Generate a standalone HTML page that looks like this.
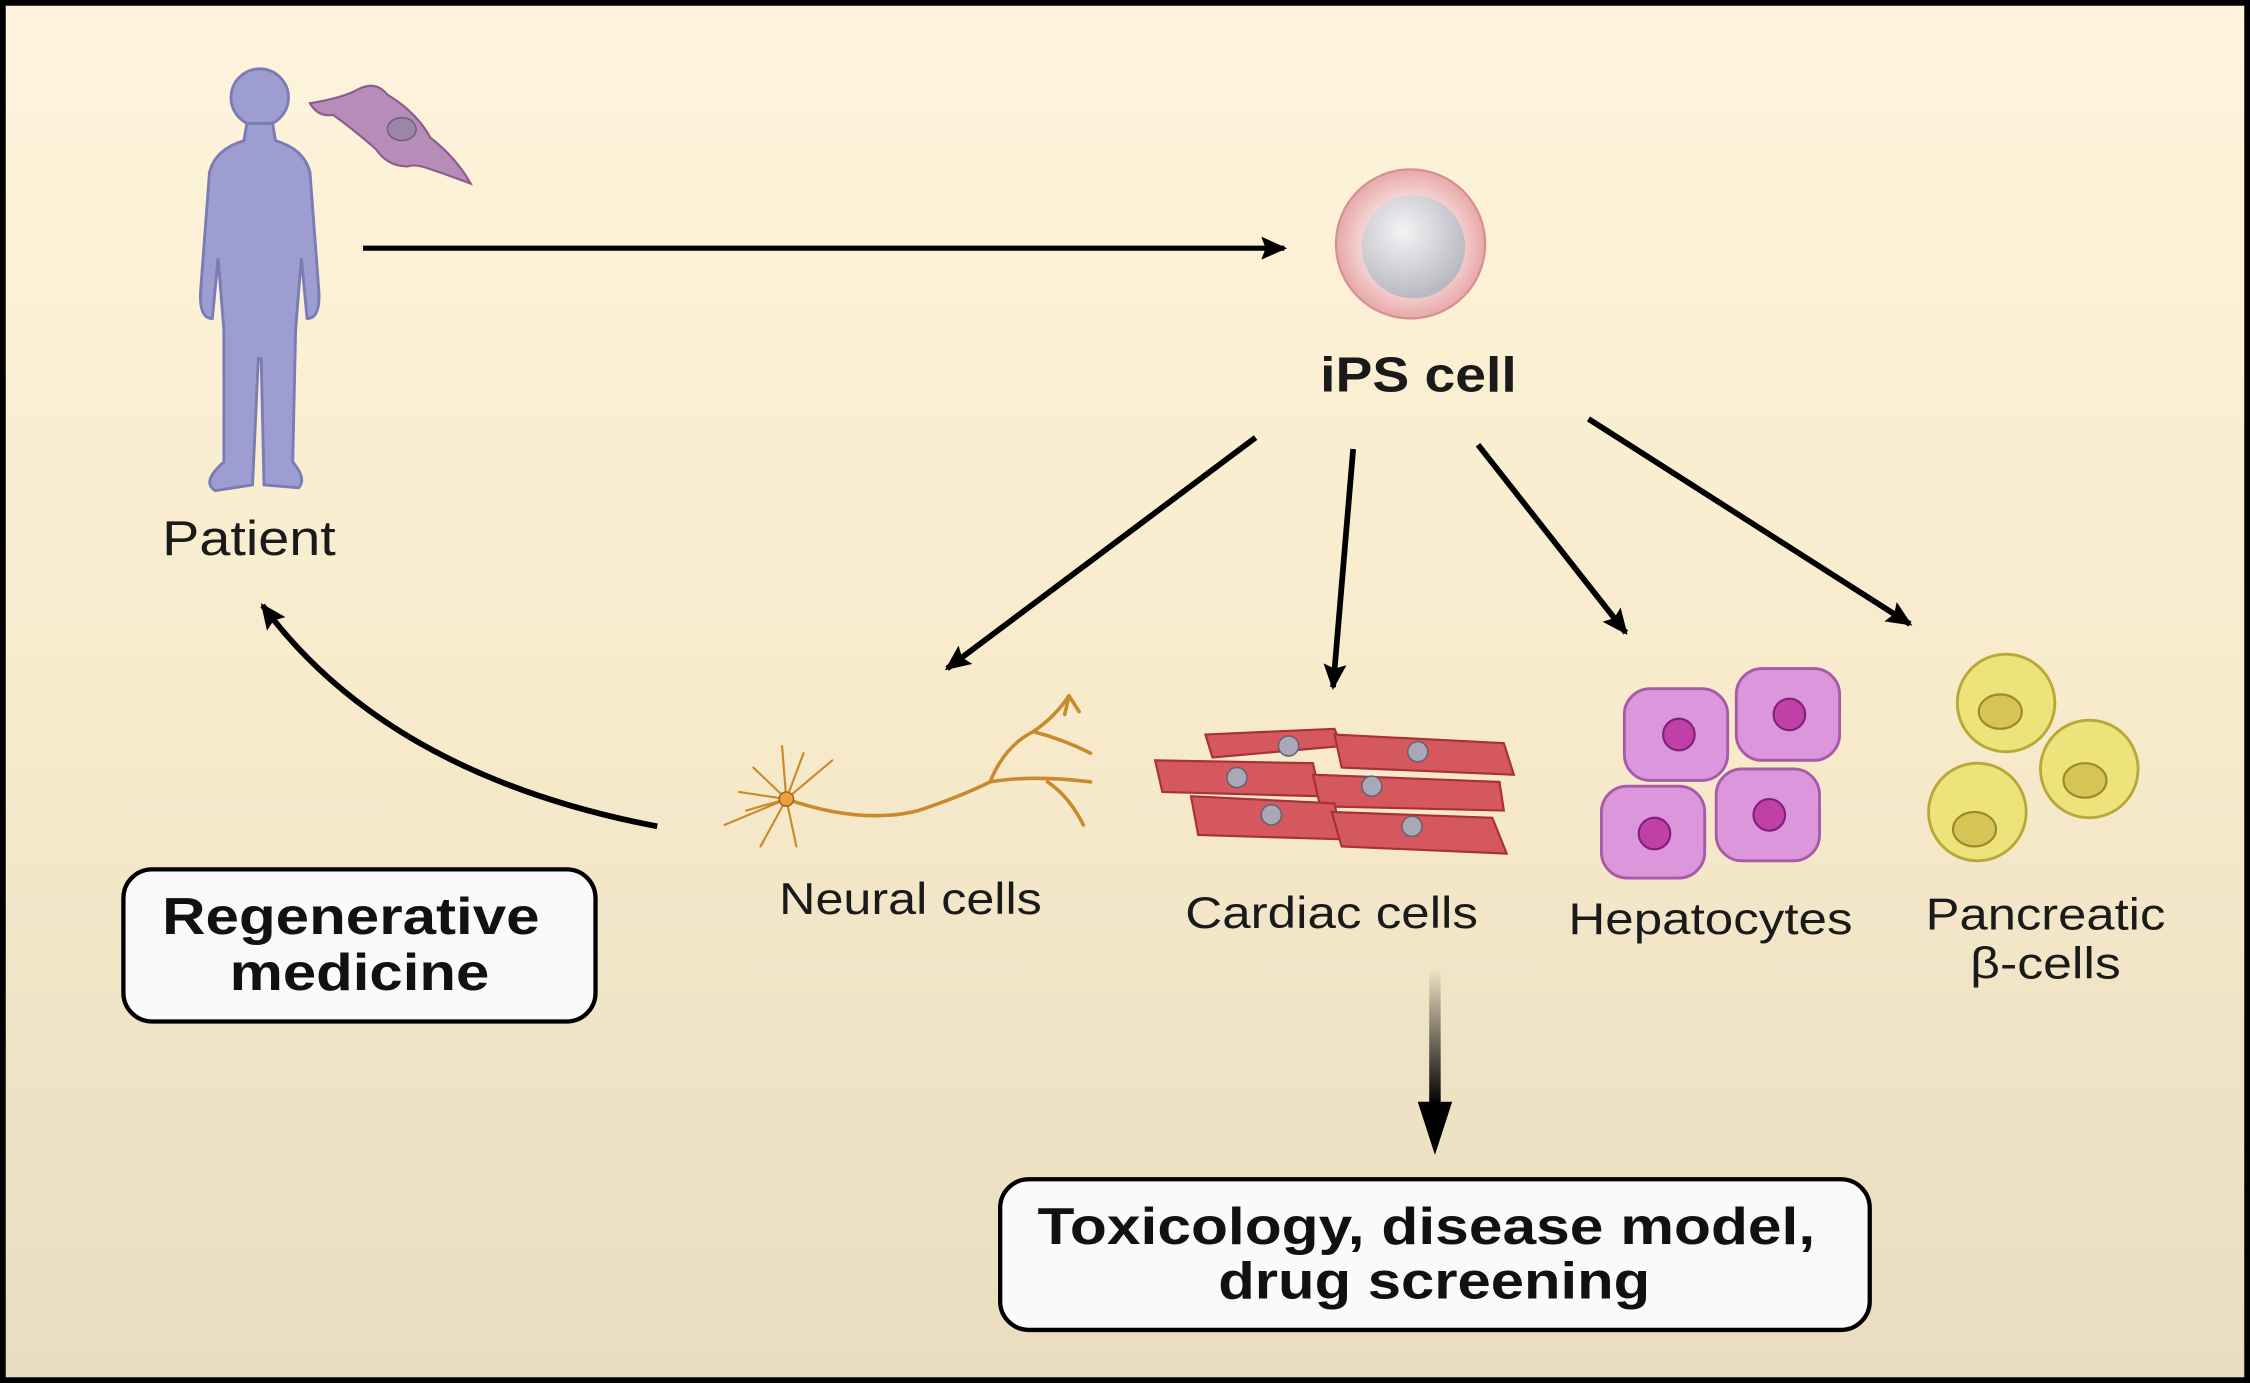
<!DOCTYPE html>
<html><head><meta charset="utf-8"><style>
html,body{margin:0;padding:0;background:#fff}
svg{display:block}
text{font-family:"Liberation Sans",Arial,sans-serif}
</style></head><body>
<svg width="2250" height="1383" viewBox="0 0 1568 964" preserveAspectRatio="none" xmlns="http://www.w3.org/2000/svg">
<defs>
<linearGradient id="bg" x1="0" y1="0" x2="0" y2="1">
<stop offset="0" stop-color="#fef4dc"/><stop offset="0.5" stop-color="#f8ebcc"/><stop offset="1" stop-color="#e9dcbf"/>
</linearGradient>
<radialGradient id="ips" cx="0.5" cy="0.5" r="0.5">
<stop offset="0.6" stop-color="#f6dada"/><stop offset="1" stop-color="#e8a8a8"/>
</radialGradient>
<radialGradient id="nuc" cx="0.4" cy="0.35" r="0.7">
<stop offset="0" stop-color="#f4f4f6"/><stop offset="1" stop-color="#b4b4bc"/>
</radialGradient>
<linearGradient id="garr" x1="0" y1="0" x2="0" y2="1">
<stop offset="0" stop-color="#000" stop-opacity="0"/><stop offset="1" stop-color="#000"/>
</linearGradient>
<marker id="ah2" markerWidth="20" markerHeight="16" refX="16" refY="8" orient="auto" markerUnits="userSpaceOnUse">
<path d="M0,0 L18,8 L0,16 L3,8 Z" fill="#000"/>
</marker>
</defs>
<rect x="2" y="2" width="1564" height="960" fill="url(#bg)" stroke="#000" stroke-width="4"/>

<g fill="#9d9dd2" stroke="#7b7bb5" stroke-width="2">
<circle cx="181" cy="68" r="20"/>
<path d="M172,86 L190,86 L192,98 Q212,104 216,120 L222,200 Q224,222 214,222 L210,180 L206,230 L204,322 Q214,334 208,340 L184,338 L182,250 L180,250 L176,338 L150,342 Q140,336 156,322 L156,230 L152,180 L148,222 Q138,222 140,200 L146,120 Q150,104 170,98 Z"/>
</g>
<path d="M216,72 Q240,68 250,62 Q262,56 270,66 Q290,78 300,96 Q318,110 328,128 Q312,122 300,118 Q290,114 284,116 Q270,116 262,104 Q246,90 232,80 Q222,82 216,72 Z" fill="#b88cb8" stroke="#8c5c8c" stroke-width="1.5"/>
<ellipse cx="280" cy="90" rx="10" ry="8" fill="#9a86a8" stroke="#6c5c7c"/>

<text x="113" y="387" font-size="34" textLength="121" lengthAdjust="spacingAndGlyphs" fill="#1a1a1a">Patient</text>

<line x1="253" y1="173" x2="895" y2="173" stroke="#000" stroke-width="3.5" marker-end="url(#ah2)"/>

<circle cx="983" cy="170" r="52" fill="url(#ips)" stroke="#d49090" stroke-width="1.5"/>
<circle cx="985" cy="172" r="36" fill="url(#nuc)"/>
<text x="920" y="273" font-size="34" font-weight="bold" textLength="137" lengthAdjust="spacingAndGlyphs" fill="#1a1a1a">iPS cell</text>

<g stroke="#000" stroke-width="4" fill="none">
<line x1="875" y1="305" x2="660" y2="466" marker-end="url(#ah2)"/>
<line x1="943" y1="313" x2="929" y2="479" marker-end="url(#ah2)"/>
<line x1="1030" y1="310" x2="1133" y2="441" marker-end="url(#ah2)"/>
<line x1="1107" y1="292" x2="1331" y2="435" marker-end="url(#ah2)"/>
<path d="M458,576 Q270,540 183,422" marker-end="url(#ah2)"/>
</g>

<g stroke="#c88a2c" stroke-width="2.5" fill="none" stroke-linecap="round">
<path d="M548,557 Q600,575 640,565 Q670,555 690,545 Q720,540 760,545"/>
<path d="M690,545 Q700,520 720,510 Q735,500 745,485"/>
<path d="M720,510 Q740,515 760,525"/>
<path d="M730,545 Q745,555 755,575"/>
<path d="M745,485 L742,498 M745,485 L752,496"/>
<g stroke-width="1.5">
<path d="M548,557 L525,535 M548,557 L515,552 M548,557 L505,575 M548,557 L530,590 M548,557 L560,525 M548,557 L580,530 M548,557 L545,520 M548,557 L520,565 M548,557 L555,590"/>
</g>
</g>
<circle cx="548" cy="557" r="5" fill="#e8a040" stroke="#a06010"/>

<g fill="#d4585e" stroke="#a83038" stroke-width="1.5">
<path d="M840,512 L930,508 L935,520 L845,528 Z"/>
<path d="M930,512 L1048,518 L1055,540 L935,535 Z"/>
<path d="M805,530 L915,532 L920,555 L810,552 Z"/>
<path d="M915,540 L1045,545 L1048,565 L920,562 Z"/>
<path d="M830,555 L930,560 L935,585 L835,582 Z"/>
<path d="M928,566 L1040,570 L1050,595 L935,590 Z"/>
</g>
<g fill="#a8a8b8" stroke="#606070">
<circle cx="898" cy="520" r="7"/><circle cx="988" cy="524" r="7"/><circle cx="862" cy="542" r="7"/>
<circle cx="956" cy="548" r="7"/><circle cx="886" cy="568" r="7"/><circle cx="984" cy="576" r="7"/>
</g>

<g fill="#dc96dc" stroke="#a85aa8" stroke-width="2">
<rect x="1132" y="480" width="72" height="64" rx="18"/>
<rect x="1210" y="466" width="72" height="64" rx="18"/>
<rect x="1116" y="548" width="72" height="64" rx="18"/>
<rect x="1196" y="536" width="72" height="64" rx="18"/>
</g>
<g fill="#c040a8" stroke="#80207a" stroke-width="1.5">
<circle cx="1170" cy="512" r="11"/><circle cx="1247" cy="498" r="11"/><circle cx="1153" cy="581" r="11"/><circle cx="1233" cy="568" r="11"/>
</g>

<g fill="#eee27a" stroke="#b8a838" stroke-width="2">
<circle cx="1398" cy="490" r="34"/><circle cx="1456" cy="536" r="34"/><circle cx="1378" cy="566" r="34"/>
</g>
<g fill="#d6c456" stroke="#9a8a28" stroke-width="1.5">
<ellipse cx="1394" cy="496" rx="15" ry="12"/><ellipse cx="1453" cy="544" rx="15" ry="12"/><ellipse cx="1376" cy="578" rx="15" ry="12"/>
</g>

<g font-size="31" fill="#1a1a1a" lengthAdjust="spacingAndGlyphs">
<text x="543" y="637" textLength="183" lengthAdjust="spacingAndGlyphs">Neural cells</text>
<text x="826" y="647" textLength="204" lengthAdjust="spacingAndGlyphs">Cardiac cells</text>
<text x="1093" y="651" textLength="198" lengthAdjust="spacingAndGlyphs">Hepatocytes</text>
<text x="1342" y="648" textLength="167" lengthAdjust="spacingAndGlyphs">Pancreatic</text>
<text x="1373" y="682" textLength="105" lengthAdjust="spacingAndGlyphs">β-cells</text>
</g>

<rect x="996" y="675" width="8" height="95" fill="url(#garr)"/>
<path d="M988,768 L1012,768 L1000,805 Z" fill="#000"/>

<rect x="86" y="606" width="329" height="106" rx="20" fill="#fafafa" stroke="#000" stroke-width="3"/>
<text x="113" y="651" font-size="36" font-weight="bold" textLength="263" lengthAdjust="spacingAndGlyphs" fill="#111">Regenerative</text>
<text x="160" y="690" font-size="36" font-weight="bold" textLength="181" lengthAdjust="spacingAndGlyphs" fill="#111">medicine</text>

<rect x="697" y="822" width="606" height="105" rx="20" fill="#fafafa" stroke="#000" stroke-width="3"/>
<text x="723" y="867" font-size="36" font-weight="bold" textLength="542" lengthAdjust="spacingAndGlyphs" fill="#111">Toxicology, disease model,</text>
<text x="849" y="905" font-size="36" font-weight="bold" textLength="301" lengthAdjust="spacingAndGlyphs" fill="#111">drug screening</text>
</svg>
</body></html>
